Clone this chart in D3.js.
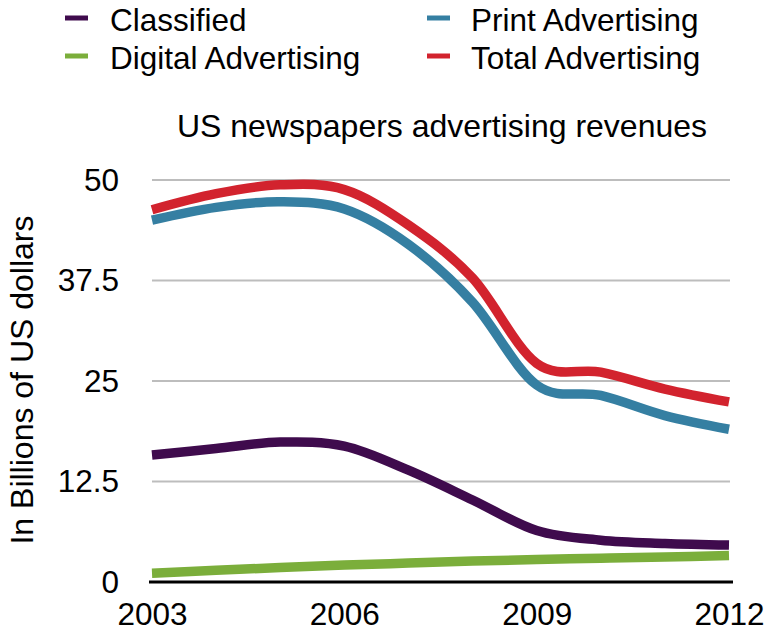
<!DOCTYPE html>
<html>
<head>
<meta charset="utf-8">
<script src="https://cdn.jsdelivr.net/npm/d3@7"></script>
<style>
  html, body { margin: 0; padding: 0; background: #fff; }
  svg text { font-family: "Liberation Sans", Arial, Helvetica, sans-serif; fill: #000; }
</style>
</head>
<body>
<svg id="chart" width="771" height="631"></svg>
<script>
// Revenue series, billions of US dollars
const years = [2003, 2004, 2005, 2006, 2007, 2008, 2009, 2010, 2011, 2012];
const classified = [15.8, 16.6, 17.4, 16.9, 13.9, 10.2, 6.4, 5.2, 4.8, 4.6];
const digital    = [1.1, 1.45, 1.8, 2.1, 2.35, 2.6, 2.8, 2.95, 3.1, 3.3];
const print      = [45.0, 46.6, 47.3, 46.4, 42.0, 34.8, 24.5, 23.2, 20.7, 19.0];
const total      = [46.3, 48.3, 49.4, 48.8, 44.4, 37.8, 27.2, 26.1, 24.0, 22.4];

const seriesNames  = ["Classified", "Digital Advertising", "Print Advertising", "Total Advertising"];
const seriesColors = ["#3f0b4d", "#7bae3b", "#357fa2", "#d2232e"];
const seriesValues = [classified, digital, print, total];

const yTicks = [0, 12.5, 25, 37.5, 50];
const xTicks = [2003, 2006, 2009, 2012];

const title = "US newspapers advertising revenues";
const yLabel = "In Billions of US dollars";

const FONT = 31.5;

const svg = d3.select("#chart");

const x = d3.scaleLinear().domain([2003, 2012]).range([152, 729]);
const y = d3.scaleLinear().domain([0, 50]).range([582, 180]);

// horizontal grid
svg.append("g")
  .selectAll("line")
  .data(yTicks.filter(d => d > 0))
  .join("line")
  .attr("x1", 152).attr("x2", 730)
  .attr("y1", d => y(d)).attr("y2", d => y(d))
  .attr("stroke", "#bdbdbd").attr("stroke-width", 2.2);

// y axis labels
const yAxis = svg.append("g")
  .attr("transform", `translate(${x(2003)},0)`)
  .call(d3.axisLeft(y).tickValues(yTicks).tickSize(0).tickPadding(33).tickFormat(d => String(d)));
yAxis.select(".domain").remove();
yAxis.selectAll("text").attr("font-size", FONT).style("font-family", '"Liberation Sans", Arial, sans-serif');

// x axis labels
const xAxis = svg.append("g")
  .attr("transform", `translate(0,${y(0)})`)
  .call(d3.axisBottom(x).tickValues(xTicks).tickSize(0).tickPadding(21).tickFormat(d3.format("d")));
xAxis.select(".domain").remove();
xAxis.selectAll("text").attr("font-size", FONT).style("font-family", '"Liberation Sans", Arial, sans-serif');

// series lines
const line = d3.line()
  .x((d, i) => x(years[i]))
  .y(d => y(d))
  .curve(d3.curveCardinal.tension(0));

svg.append("g")
  .selectAll("path")
  .data(seriesValues)
  .join("path")
  .attr("d", d => line(d))
  .attr("fill", "none")
  .attr("stroke", (d, i) => seriesColors[i])
  .attr("stroke-width", 9.5)
  .attr("stroke-linejoin", "round");

// baseline
svg.append("line")
  .attr("x1", 149).attr("x2", 733)
  .attr("y1", y(0)).attr("y2", y(0))
  .attr("stroke", "#000").attr("stroke-width", 3);

// title
svg.append("text")
  .attr("x", 442).attr("y", 137)
  .attr("text-anchor", "middle")
  .attr("font-size", 32)
  .text(title);

// y axis title
svg.append("text")
  .attr("transform", "translate(33,380) rotate(-90)")
  .attr("text-anchor", "middle")
  .attr("font-size", 32)
  .text(yLabel);

// legend, two columns
const legendPos = [
  { sx: 65, tx: 110, sy: 18, ty: 31 },
  { sx: 65, tx: 110, sy: 56, ty: 69 },
  { sx: 427, tx: 471, sy: 18, ty: 31 },
  { sx: 427, tx: 471, sy: 56, ty: 69 }
];
const legend = svg.append("g")
  .selectAll("g")
  .data(seriesNames)
  .join("g");
legend.append("line")
  .attr("x1", (d, i) => legendPos[i].sx)
  .attr("x2", (d, i) => legendPos[i].sx + 23)
  .attr("y1", (d, i) => legendPos[i].sy)
  .attr("y2", (d, i) => legendPos[i].sy)
  .attr("stroke", (d, i) => seriesColors[i])
  .attr("stroke-width", 5);
legend.append("text")
  .attr("x", (d, i) => legendPos[i].tx)
  .attr("y", (d, i) => legendPos[i].ty)
  .attr("font-size", FONT)
  .text(d => d);
</script>
</body>
</html>
